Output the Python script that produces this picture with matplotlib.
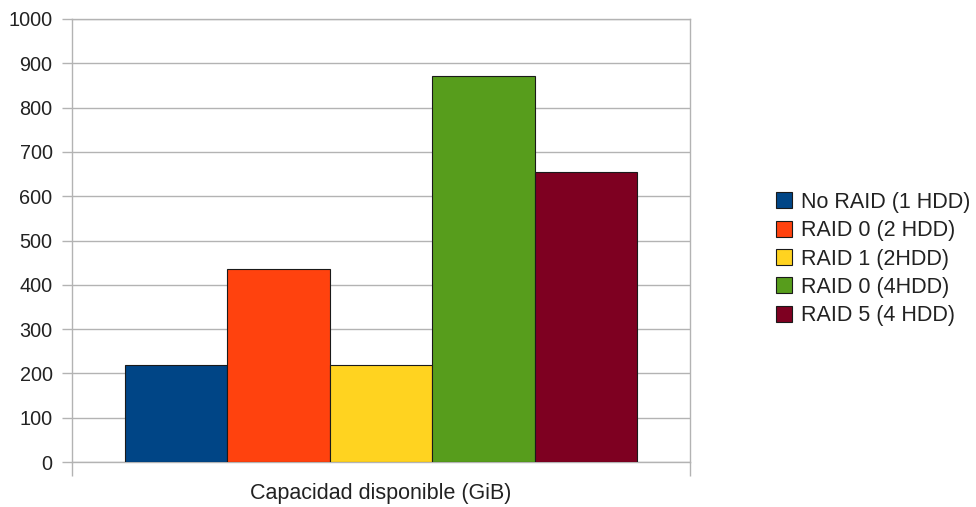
import matplotlib
matplotlib.use("Agg")
import matplotlib.pyplot as plt
import numpy as np

plt.rcParams['font.family'] = ['Liberation Sans', 'DejaVu Sans']

category = "Capacidad disponible (GiB)"
series = ["No RAID (1 HDD)", "RAID 0 (2 HDD)", "RAID 1 (2HDD)", "RAID 0 (4HDD)", "RAID 5 (4 HDD)"]
values = [218, 436, 218, 872, 654]
colors = ["#004586", "#ff420e", "#ffd320", "#579d1c", "#7e0021"]
yticks = [0, 100, 200, 300, 400, 500, 600, 700, 800, 900, 1000]

fig = plt.figure(figsize=(9.76, 5.07), dpi=100)
ax = fig.add_axes([72/976, 45/507, 618/976, 443/507])

n = len(series)
width = 0.166
offsets = (np.arange(n) - (n - 1) / 2) * width
for off, v, c, s in zip(offsets, values, colors, series):
    ax.bar(off, v, width=width, color=c, edgecolor="#1a1a1a", linewidth=0.8, label=s, zorder=3)

ax.set_xlim(-0.5, 0.5)
ax.set_ylim(0, 1000)
ax.set_yticks(yticks)
ax.yaxis.grid(True, color="#b3b3b3", linewidth=1, zorder=0)
ax.set_axisbelow(True)

ax.set_xticks([0])
ax.set_xticklabels([category], fontsize=15.5, color="#222222")
ax.set_xticks([-0.5, 0.5], minor=True)
ax.tick_params(axis='x', which='major', length=0, pad=15)
ax.tick_params(axis='x', which='minor', length=10, color="#b3b3b3", width=1)
ax.tick_params(axis='y', length=7, color="#b3b3b3", width=1, labelsize=14.3, labelcolor="#222222", pad=7)

for sp in ax.spines.values():
    sp.set_color("#b3b3b3")
    sp.set_linewidth(1)

handles, labels = ax.get_legend_handles_labels()
leg = fig.legend(handles, labels, loc='center left', bbox_to_anchor=(776/976, 1 - 259/507),
                 frameon=False, fontsize=15.5, handlelength=0.75, handleheight=0.75,
                 handletextpad=0.4, labelspacing=0.34, borderpad=0, borderaxespad=0)
for t in leg.get_texts():
    t.set_color("#222222")

fig.savefig("out.png", dpi=100)
